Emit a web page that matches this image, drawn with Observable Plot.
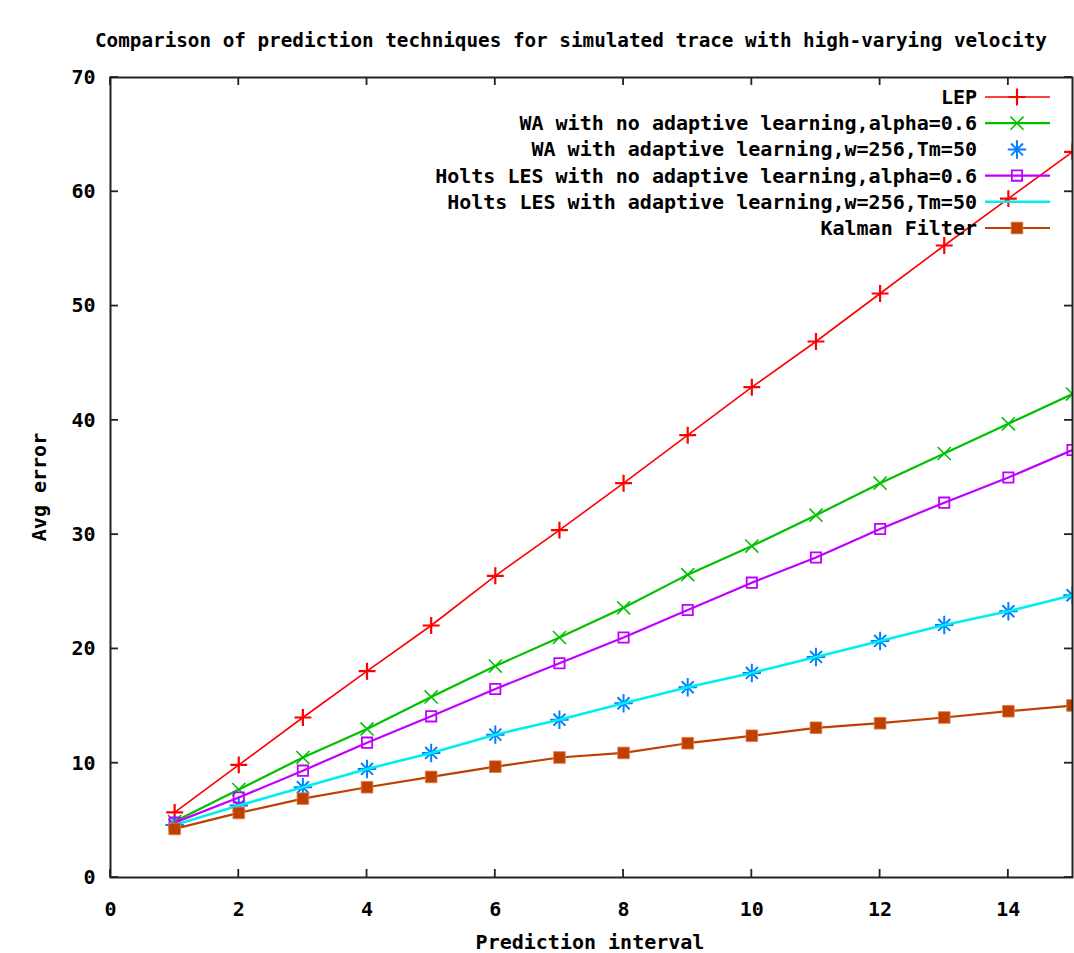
<!DOCTYPE html>
<html><head><meta charset="utf-8">
<script src="https://cdn.jsdelivr.net/npm/d3@7"></script>
<script src="https://cdn.jsdelivr.net/npm/@observablehq/plot@0.6"></script>
<style>body{margin:0;background:#fff;overflow:hidden}</style>
</head><body><div id="chart"></div>
<script>
const chartTitle = "Comparison of prediction techniques for simulated trace with high-varying velocity";
const xTitle = "Prediction interval";
const yTitle = "Avg error";
const intervals = [1, 2, 3, 4, 5, 6, 7, 8, 9, 10, 11, 12, 13, 14, 15];
const xTicks = [0, 2, 4, 6, 8, 10, 12, 14];
const yTicks = [0, 10, 20, 30, 40, 50, 60, 70];

const lep          = [5.7, 9.85, 14.0, 18.05, 22.05, 26.4, 30.4, 34.5, 38.7, 42.9, 46.9, 51.1, 55.3, 59.4, 63.5];
const waNoAdapt    = [4.9, 7.7, 10.5, 13.0, 15.8, 18.5, 21.0, 23.6, 26.5, 29.0, 31.7, 34.5, 37.1, 39.7, 42.3];
const waAdapt      = [4.6, 6.3, 7.9, 9.5, 10.9, 12.5, 13.8, 15.25, 16.65, 17.9, 19.3, 20.7, 22.1, 23.3, 24.7];
const holtsNoAdapt = [4.8, 7.0, 9.35, 11.8, 14.1, 16.5, 18.75, 21.0, 23.4, 25.8, 28.0, 30.5, 32.8, 35.0, 37.4];
const holtsAdapt   = [4.6, 6.3, 7.9, 9.5, 10.9, 12.5, 13.8, 15.25, 16.65, 17.9, 19.3, 20.7, 22.1, 23.3, 24.7];
const kalman       = [4.25, 5.65, 6.9, 7.9, 8.8, 9.7, 10.5, 10.9, 11.75, 12.4, 13.1, 13.5, 14.0, 14.55, 15.05];

const seriesNames = [
  "LEP",
  "WA with no adaptive learning,alpha=0.6",
  "WA with adaptive learning,w=256,Tm=50",
  "Holts LES with no adaptive learning,alpha=0.6",
  "Holts LES with adaptive learning,w=256,Tm=50",
  "Kalman Filter"
];
const seriesValues = [lep, waNoAdapt, waAdapt, holtsNoAdapt, holtsAdapt, kalman];
const seriesColors = ["#ff0000", "#00c000", "#0080ff", "#c000ff", "#00eeee", "#c04000"];
const seriesHasLine = [true, true, false, true, true, true];
const seriesSymbol = ["plus", "times", "asterisk", "squareOpen", null, "squareFilled"];

const FONT = "DejaVu Sans Mono";
const FS = 20;

function rows(i) {
  return intervals.map((x, j) => ({x, y: seriesValues[i][j], s: seriesNames[i]}));
}

const marks = [];
marks.push(Plot.axisX(xTicks, {anchor: "bottom", tickSize: 0, tickPadding: 24, label: null}));
marks.push(Plot.axisY(yTicks, {anchor: "left", tickSize: 0, tickPadding: 15, label: null}));

seriesNames.forEach((name, i) => {
  const d = rows(i);
  const c = seriesColors[i];
  if (seriesHasLine[i]) {
    marks.push(Plot.line(d, {x: "x", y: "y", stroke: c, strokeWidth: i === 0 ? 1.6 : (i === 4 ? 2.6 : 2.2), clip: true}));
  }
  const sym = seriesSymbol[i];
  if (sym === "plus") marks.push(Plot.dot(d, {x: "x", y: "y", symbol: "plus", r: 5.5, stroke: c, strokeWidth: 2.2, clip: true}));
  if (sym === "times") marks.push(Plot.dot(d, {x: "x", y: "y", symbol: "times", r: 6, stroke: c, strokeWidth: 1.6, clip: true}));
  if (sym === "asterisk") {
    marks.push(Plot.dot(d, {x: "x", y: "y", symbol: "plus", r: 6, stroke: c, strokeWidth: 2, clip: true}));
    marks.push(Plot.dot(d, {x: "x", y: "y", symbol: "times", r: 5.5, stroke: c, strokeWidth: 2, clip: true}));
  }
  if (sym === "squareOpen") marks.push(Plot.dot(d, {x: "x", y: "y", symbol: "square", r: 5.8, fill: "none", stroke: c, strokeWidth: 1.8, clip: true}));
  if (sym === "squareFilled") marks.push(Plot.dot(d, {x: "x", y: "y", symbol: "square", r: 6.6, fill: c, stroke: "#e08050", strokeWidth: 0.8, clip: true}));
});
marks.push(Plot.frame({stroke: "#222", strokeWidth: 2}));

const plot = Plot.plot({
  width: 1074,
  height: 953,
  marginLeft: 110,
  marginRight: 2,
  marginTop: 77,
  marginBottom: 76,
  style: {fontFamily: FONT, fontWeight: "bold", fontSize: FS + "px", color: "#000", background: "#fff"},
  x: {domain: [0, 15]},
  y: {domain: [0, 70]},
  marks
});

const svg = d3.select(plot);
const xs = plot.scale("x"), ys = plot.scale("y");
// inward ticks on all four sides, positioned by the plot's scales
const tk = svg.append("g").attr("stroke", "#222").attr("stroke-width", 1.8);
const frameTop = ys.apply(70), frameBottom = ys.apply(0), frameLeft = xs.apply(0), frameRight = xs.apply(15);
xTicks.forEach(v => {
  const px = xs.apply(v);
  tk.append("line").attr("x1", px).attr("x2", px).attr("y1", frameBottom).attr("y2", frameBottom - 8);
  tk.append("line").attr("x1", px).attr("x2", px).attr("y1", frameTop).attr("y2", frameTop + 8);
});
yTicks.forEach(v => {
  const py = ys.apply(v);
  tk.append("line").attr("x1", frameLeft).attr("x2", frameLeft + 8).attr("y1", py).attr("y2", py);
  tk.append("line").attr("x1", frameRight).attr("x2", frameRight - 8).attr("y1", py).attr("y2", py);
});

const txt = (x, y, s, anchor) => svg.append("text")
  .attr("x", x).attr("y", y).attr("text-anchor", anchor)
  .attr("font-family", FONT).attr("font-weight", "bold").attr("font-size", FS)
  .attr("fill", "#000").text(s);
txt(95, 47, chartTitle, "start").attr("font-size", 19.3);
txt(590, 949, xTitle, "middle");
svg.append("text")
  .attr("transform", "translate(46,487) rotate(-90)").attr("text-anchor", "middle")
  .attr("font-family", FONT).attr("font-weight", "bold").attr("font-size", FS)
  .text(yTitle);

// legend
const lg = svg.append("g");
const symArea = r => Math.PI * r * r;
seriesNames.forEach((name, i) => {
  const yy = 97 + 26.2 * i;
  const c = seriesColors[i];
  txt(977, yy, name, "end").attr("dy", "0.35em");
  if (seriesHasLine[i]) {
    lg.append("line").attr("x1", 985).attr("x2", 1050).attr("y1", yy).attr("y2", yy)
      .attr("stroke", c).attr("stroke-width", i === 0 ? 1.6 : (i === 4 ? 2.6 : 2.2));
  }
  const sym = seriesSymbol[i];
  const g = lg.append("g").attr("transform", `translate(1017,${yy})`);
  if (sym === "plus" || sym === "asterisk") g.append("path").attr("d", d3.symbol(d3.symbolPlus, symArea(sym === "plus" ? 5.5 : 6))()).attr("fill", "none").attr("stroke", c).attr("stroke-width", sym === "plus" ? 2.2 : 2);
  if (sym === "times" || sym === "asterisk") g.append("path").attr("d", d3.symbol(d3.symbolTimes, symArea(sym === "times" ? 6 : 5.5))()).attr("fill", "none").attr("stroke", c).attr("stroke-width", sym === "times" ? 1.6 : 2);
  if (sym === "squareOpen") g.append("path").attr("d", d3.symbol(d3.symbolSquare, symArea(5.8))()).attr("fill", "none").attr("stroke", c).attr("stroke-width", 1.8);
  if (sym === "squareFilled") g.append("path").attr("d", d3.symbol(d3.symbolSquare, symArea(6.6))()).attr("fill", c).attr("stroke", "#e08050").attr("stroke-width", 0.8);
});

document.getElementById("chart").appendChild(plot);
</script>
</body></html>
